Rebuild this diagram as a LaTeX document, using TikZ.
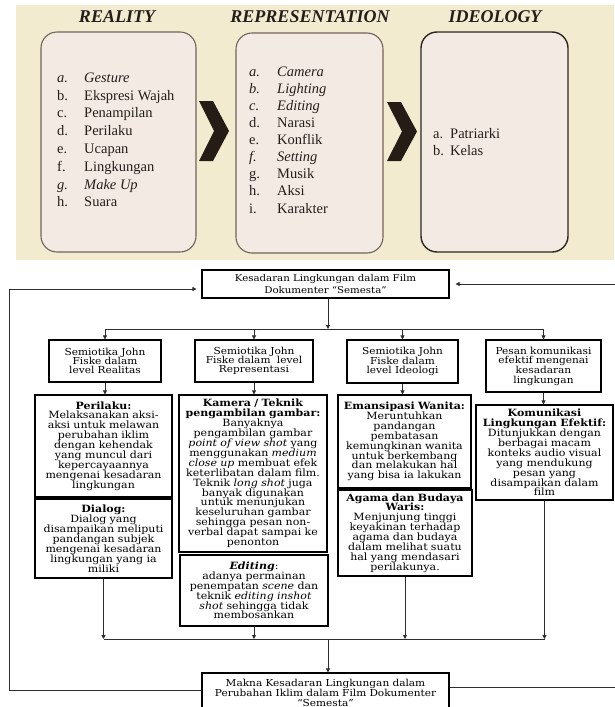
\documentclass[tikz,border=0pt]{standalone}
\usepackage{fontspec}
\setmainfont{Liberation Serif}
\newfontfamily\flowfont[FakeStretch=1.1]{DejaVu Serif}
\usetikzlibrary{arrows.meta,calc}

\definecolor{beige}{RGB}{243,235,208}
\definecolor{boxfill}{RGB}{244,234,228}
\definecolor{boxline}{RGB}{112,100,90}
\definecolor{boxdark}{RGB}{45,38,32}
\definecolor{ink}{RGB}{36,30,26}
\definecolor{chev}{RGB}{38,28,22}
\definecolor{wirec}{RGB}{45,45,45}

\begin{document}
\begin{tikzpicture}[x=1pt,y=-1pt,
  titletext/.style={font=\fontsize{18}{18}\selectfont\bfseries\itshape, text=ink, inner sep=0},
  itemtext/.style={font=\fontsize{14.5}{14.5}\selectfont, text=ink, inner sep=0, anchor=mid west},
  rbox/.style={draw=boxline, fill=boxfill, line width=1.1pt, rounded corners=16pt},
  fbox/.style={draw=black, line width=1.1pt, fill=white, inner sep=0pt, align=center,
    font=\flowfont\fontsize{10}{9.9}\selectfont},
  hbox/.style={fbox, font=\flowfont\fontsize{9.6}{9.3}\selectfont},
  wire/.style={draw=wirec, line width=0.8pt},
  arr/.style={wire, -{Triangle[length=4pt,width=4pt]}},
]
\useasboundingbox (0,0) rectangle (614,707);
\fill[white] (0,0) rectangle (614,707);

% ---------- top: photographed scheme ----------
\fill[beige] (16,5) rectangle (614,260);
\draw[rbox] (41,32) rectangle (196,252);
\draw[rbox] (236,33) rectangle (383,253);
\draw[rbox, draw=boxdark, line width=1.4pt] (421,32) rectangle (568,252);

\node[titletext] (tReal) at (117,17) {REALITY};
\node[titletext] (tRep) at (310,17) {REPRESENTATION};
\node[titletext] (tIdeo) at (495,17) {IDEOLOGY};

\fill[chev] (199,101) -- (213,101) -- (229,131) -- (213,161) -- (199,161) -- (214,131) -- cycle;
\fill[chev] (387,102) -- (401,102) -- (417,131.5) -- (401,161) -- (387,161) -- (402,131.5) -- cycle;

% reality items
\foreach \l/\t [count=\i from 0] in {{\itshape a.}/{\itshape Gesture},b./Ekspresi Wajah,c./Penampilan,d./Perilaku,e./Ucapan,f./Lingkungan,{\itshape g.}/{\itshape Make Up},h./Suara}{
  \node[itemtext] (rl\i) at (57,80+17.8*\i) {\l};
  \node[itemtext] (rt\i) at (84,80+17.8*\i) {\t};
}
% representation items
\foreach \l/\t [count=\i from 0] in {{\itshape a.}/{\itshape Camera},{\itshape b.}/{\itshape Lighting},{\itshape c.}/{\itshape Editing},d./Narasi,e./Konflik,{\itshape f.}/{\itshape Setting},g./Musik,h./Aksi,i./Karakter}{
  \node[itemtext] (pl\i) at (249,74+17.1*\i) {\l};
  \node[itemtext] (pt\i) at (277,74+17.1*\i) {\t};
}
% ideology items
\node[itemtext] (il0) at (433,136) {a.};
\node[itemtext] (it0) at (450,136) {Patriarki};
\node[itemtext] (il1) at (433,153) {b.};
\node[itemtext] (it1) at (450,153) {Kelas};

% ---------- bottom: flow chart ----------
\node[fbox, font=\flowfont\fontsize{9.3}{12}\selectfont, minimum width=247pt, minimum height=28pt, text width=240pt] (K) at (325.5,284)
  {Kesadaran Lingkungan dalam Film\\Dokumenter “Semesta”};

\node[hbox, minimum width=112pt, minimum height=42pt, text width=108pt] (A) at (105,361)
  {Semiotika John\\Fiske dalam\\level Realitas};
\node[hbox, minimum width=118pt, minimum height=42pt, text width=114pt] (B) at (254,361)
  {Semiotika John\\Fiske dalam\ \ level\\Representasi};
\node[hbox, minimum width=111pt, minimum height=43pt, text width=107pt] (C) at (402.5,361.5)
  {Semiotika John\\Fiske dalam\\level Ideologi};
\node[hbox, minimum width=115pt, minimum height=52pt, text width=111pt] (D) at (543.5,366)
  {Pesan komunikasi\\efektif mengenai\\kesadaran\\lingkungan};

\node[fbox, minimum width=137pt, minimum height=102pt, text width=135pt] (P) at (103.5,446)
  {\textbf{Perilaku:}\\Melaksanakan aksi-\\aksi untuk melawan\\perubahan iklim\\dengan kehendak\\yang muncul dari\\kepercayaannya\\mengenai kesadaran\\lingkungan};
\node[fbox, minimum width=137pt, minimum height=79pt, text width=135pt] (Di) at (103.5,538.5)
  {\textbf{Dialog:}\\Dialog yang\\disampaikan meliputi\\pandangan subjek\\mengenai kesadaran\\lingkungan yang ia\\miliki};

\node[fbox, minimum width=148pt, minimum height=157pt, text width=146pt] (Ka) at (253,473.5)
  {\textbf{Kamera / Teknik}\\\textbf{pengambilan gambar:}\\Banyaknya\\pengambilan gambar\\\textit{point of view shot} yang\\menggunakan \textit{medium}\\\textit{close up} membuat efek\\keterlibatan dalam film.\\Teknik \textit{long shot} juga\\banyak digunakan\\untuk menunjukan\\keseluruhan gambar\\sehingga pesan non-\\verbal dapat sampai ke\\penonton};
\node[fbox, minimum width=148pt, minimum height=71pt, text width=146pt] (Ed) at (254,590.5)
  {\textbf{\textit{Editing}}:\\adanya permainan\\penempatan \textit{scene} dan\\teknik \textit{editing inshot}\\\textit{shot} sehingga tidak\\membosankan};

\node[fbox, minimum width=133pt, minimum height=93pt, text width=131pt] (E) at (404.5,441.5)
  {\textbf{Emansipasi Wanita:}\\Meruntuhkan\\pandangan\\pembatasan\\kemungkinan wanita\\untuk berkembang\\dan melakukan hal\\yang bisa ia lakukan};
\node[fbox, minimum width=134pt, minimum height=86pt, text width=132pt] (Ag) at (405,533)
  {\textbf{Agama dan Budaya}\\\textbf{Waris:}\\Menjunjung tinggi\\keyakinan terhadap\\agama dan budaya\\dalam melihat suatu\\hal yang mendasari\\perilakunya.};

\node[fbox, minimum width=137pt, minimum height=95pt, text width=135pt] (Ko) at (544.5,452.5)
  {\textbf{Komunikasi}\\\textbf{Lingkungan Efektif:}\\Ditunjukkan dengan\\berbagai macam\\konteks audio visual\\yang mendukung\\pesan yang\\disampaikan dalam\\film};

\node[fbox, font=\flowfont\fontsize{9.6}{10}\selectfont, minimum width=247pt, minimum height=39pt, text width=242pt] (M) at (325.5,692.5)
  {Makna Kesadaran Lingkungan dalam\\Perubahan Iklim dalam Film Dokumenter\\“Semesta”};

% split and collection lines
\coordinate (spl) at (0,329);
\coordinate (col) at (0,639);
\coordinate (mid) at (328,0);
\draw[arr] (K.south -| mid) -- (mid |- spl);
\draw[wire] (A.north |- spl) -- (D.north |- spl);
\foreach \n in {A,B,C,D} \draw[arr] (\n.north |- spl) -- (\n.north);
\draw[arr] (A.south) -- (A.south |- P.north);
\draw[arr] (B.south) -- (B.south |- Ka.north);
\draw[arr] (C.south) -- (C.south |- E.north);
\draw[arr] (D.south) -- (D.south |- Ko.north);

\draw[arr] (Di.south) -- (Di.south |- col);
\draw[arr] (Ed.south) -- (Ed.south |- col);
\draw[arr] (Ag.south) -- (Ag.south |- col);
\draw[arr] (Ko.south) -- (Ko.south |- col);
\draw[wire] (Di.south |- col) -- (Ko.south |- col);
\draw[arr] (mid |- col) -- (M.north -| mid);

% feedback loops (the right-hand riser lies just beyond the picture's edge)
\coordinate (lb) at (9,690);
\coordinate (rb) at (616,687);
\draw[arr] ($(M.west)+(0,-2.5)$) -- (lb) -- (lb |- 0,289) -- ($(K.west)+(-5,5)$);
\draw[arr] ($(M.east)+(0,-5.5)$) -- (rb) -- (rb |- K.east) -- ($(K.east)+(6,0)$);
\end{tikzpicture}
\end{document}
